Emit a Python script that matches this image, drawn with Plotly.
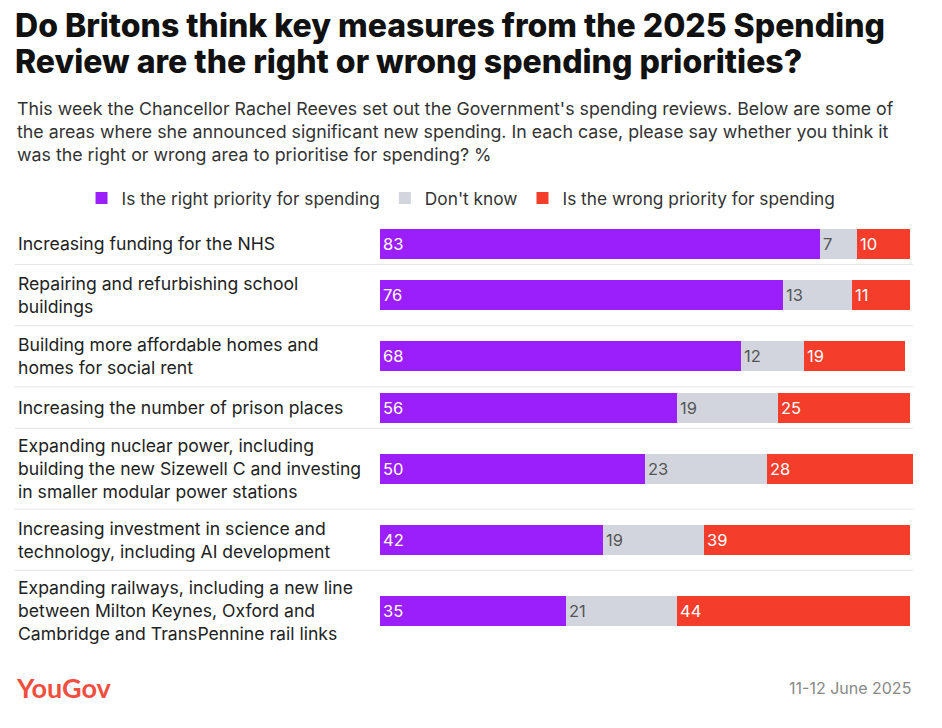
import plotly.graph_objects as go

categories = [
    "Increasing funding for the NHS",
    "Repairing and refurbishing school<br>buildings",
    "Building more affordable homes and<br>homes for social rent",
    "Increasing the number of prison places",
    "Expanding nuclear power, including<br>building the new Sizewell C and investing<br>in smaller modular power stations",
    "Increasing investment in science and<br>technology, including AI development",
    "Expanding railways, including a new line<br>between Milton Keynes, Oxford and<br>Cambridge and TransPennine rail links",
]
right = [83, 76, 68, 56, 50, 42, 35]
dont_know = [7, 13, 12, 19, 23, 19, 21]
wrong = [10, 11, 19, 25, 28, 39, 44]

title_lines = ["Do Britons think key measures from the 2025 Spending",
               "Review are the right or wrong spending priorities?"]

series = [
    ("Is the right priority for spending", right, "#9b1ffa", "white"),
    ("Don't know", dont_know, "#d2d5de", "#555"),
    ("Is the wrong priority for spending", wrong, "#f43d2b", "white"),
]

# row heights from number of label lines
lines = [c.count("<br>") + 1 for c in categories]
heights = [22 + 19.6 * n for n in lines]
centers, edges, pos = [], [], 0
for h in heights:
    centers.append(pos + h / 2)
    pos += h
    edges.append(pos)
total = pos

fig = go.Figure()
for name, vals, color, tc in series:
    fig.add_trace(go.Bar(
        y=centers, x=vals, orientation="h", name=name, width=30,
        marker=dict(color=color, line=dict(width=0)),
        text=vals, textposition="inside", insidetextanchor="start",
        textfont=dict(color=tc, size=16.5), textangle=0,
    ))

shapes = []
for e in edges[:-1]:
    shapes.append(dict(type="line", xref="paper", x0=-0.685, x1=1, yref="y", y0=e, y1=e,
                       line=dict(color="#e4e4e4", width=1)))

annotations = []
for c, y in zip(categories, centers):
    annotations.append(dict(text=c, xref="paper", x=-0.683, y=y, yref="y", xanchor="left",
                            showarrow=False, align="left", font=dict(size=17.6, color="#222")))
for t, y in zip(title_lines, [1.462, 1.378]):
    annotations.append(dict(text=t, xref="paper", yref="paper", x=-0.689, y=y, xanchor="left",
                            yanchor="middle", showarrow=False,
                            font=dict(size=32, color="#111", weight=800)))
annotations += [
    dict(text="This week the Chancellor Rachel Reeves set out the Government's spending reviews. Below are some of<br>"
              "the areas where she announced significant new spending. In each case, please say whether you think it<br>"
              "was the right or wrong area to prioritise for spending? %",
         xref="paper", yref="paper", x=-0.685, y=1.297, xanchor="left", yanchor="top",
         showarrow=False, align="left", font=dict(size=17.8, color="#333")),
    dict(text="YouGov", xref="paper", yref="paper", x=-0.687, y=-0.086, xanchor="left", yanchor="middle",
         showarrow=False, font=dict(size=27, color="#f04e3e", family="Lato", weight=700)),
    dict(text="11-12 June 2025", xref="paper", yref="paper", x=1, y=-0.086, xanchor="right", yanchor="middle",
         showarrow=False, font=dict(size=16, color="#888")),
]

fig.update_layout(
    width=942, height=728, barmode="stack", bargap=0,
    margin=dict(l=372, r=37, t=215, b=728 - 215 - round(total)),
    plot_bgcolor="white", paper_bgcolor="white",
    font=dict(family="Inter, Roboto, sans-serif"),
    xaxis=dict(visible=False, range=[0, 100.5]),
    yaxis=dict(visible=False, range=[total, 0]),
    legend=dict(orientation="h", x=-0.56, y=1.058, xanchor="left", yanchor="middle",
                font=dict(size=17.3, color="#333"), traceorder="normal", itemwidth=30),
    shapes=shapes, annotations=annotations, uniformtext=dict(minsize=10, mode="show"),
)
fig.write_html("out.html")
